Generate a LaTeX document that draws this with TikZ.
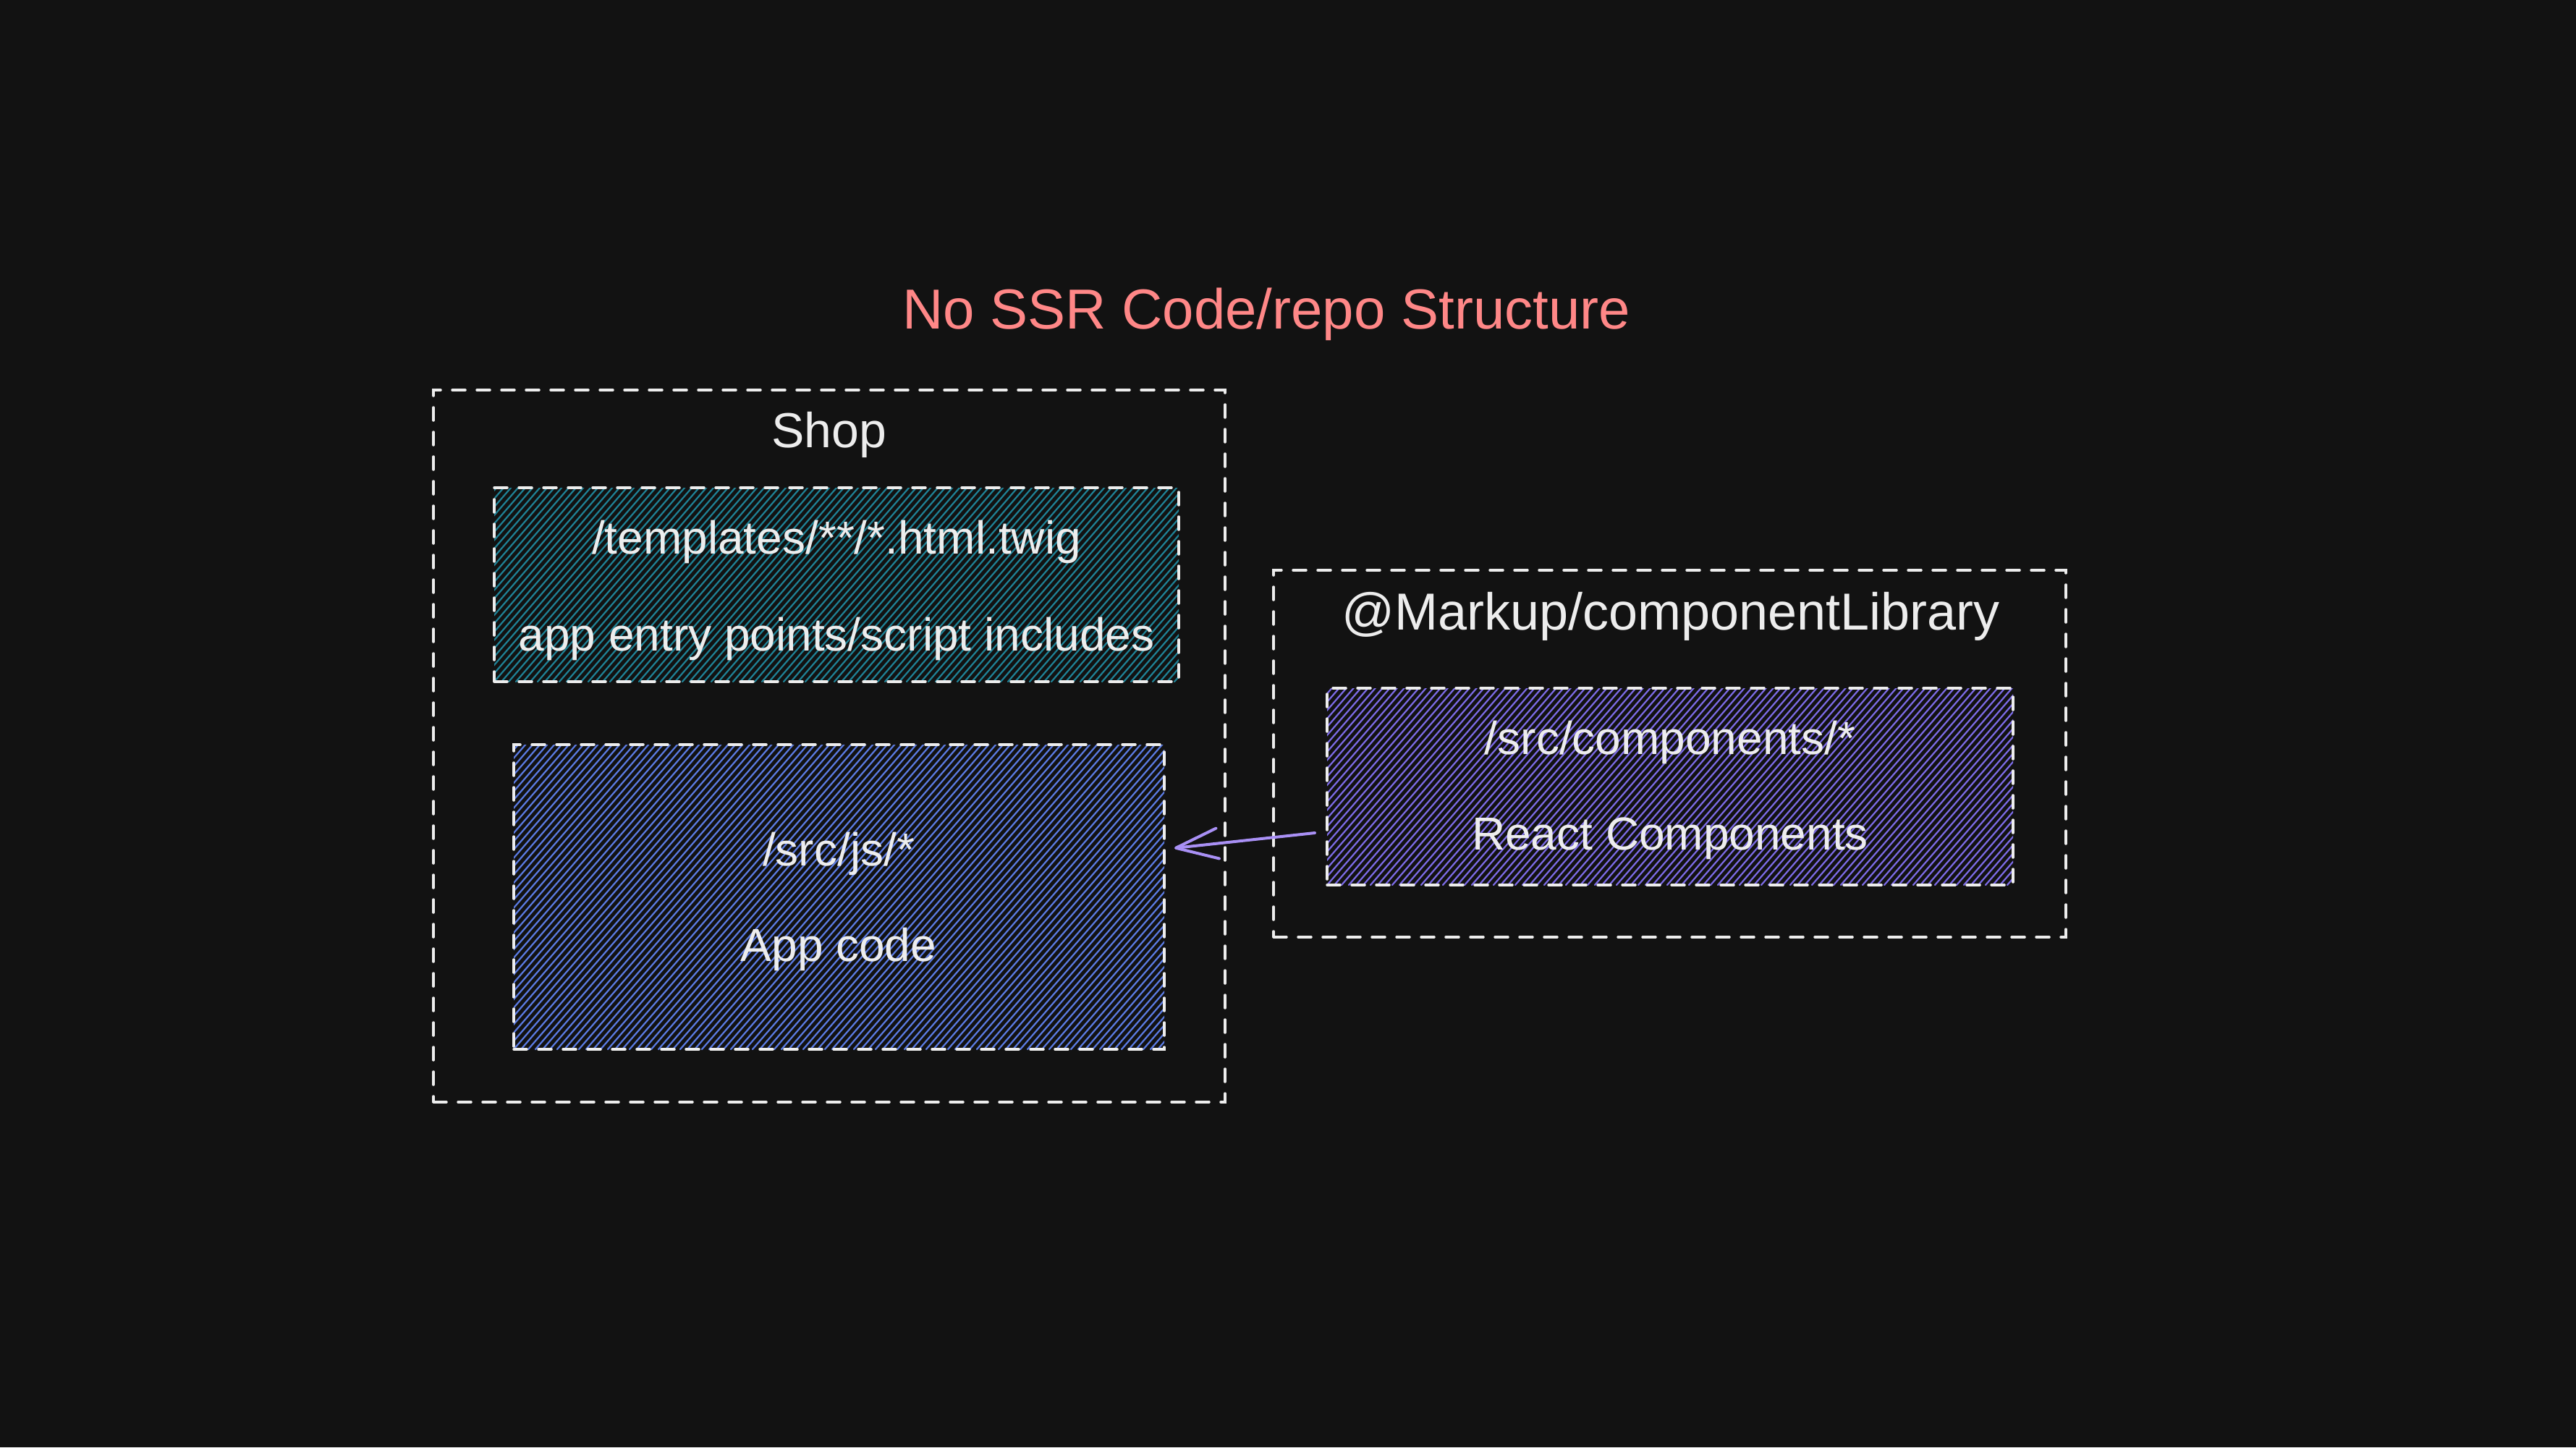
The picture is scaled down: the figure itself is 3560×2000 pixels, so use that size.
\documentclass[tikz,border=0pt]{standalone}
\usepackage{fontspec}
\setmainfont{Liberation Sans}
\usetikzlibrary{arrows.meta,calc}
\definecolor{bg}{HTML}{121212}
\definecolor{fg}{HTML}{EDEDED}
\definecolor{titlecol}{HTML}{FF8787}
\definecolor{tealh}{HTML}{1F8296}
\definecolor{blueh}{HTML}{5B7BE3}
\definecolor{purpleh}{HTML}{7C6BE6}
\definecolor{arrowcol}{HTML}{A990F5}
\tikzset{
  dbox/.style={rectangle, draw=fg, line width=3.5pt, dash pattern=on 18pt off 16pt, line cap=round, inner sep=0pt},
  hatch/.style={path picture={
    \foreach \s in {-420,-410,...,960}{
      \draw[#1, solid, line width=2.2pt, line cap=round]
        ($(path picture bounding box.south west)+(\s,0)$) -- ++(394,-453);
    }}},
  lbl/.style={text=fg, inner sep=0pt, anchor=base},
  small/.style={font=\fontsize{64pt}{76pt}\selectfont},
  mid/.style={font=\fontsize{68pt}{80pt}\selectfont},
  big/.style={font=\fontsize{72pt}{86pt}\selectfont},
  arrowline/.style={draw=arrowcol, line width=4pt, line cap=round,
    -{Straight Barb[length=58pt,width=42pt,round]}}
}
\begin{document}
\begin{tikzpicture}[x=1pt,y=-1pt]
\useasboundingbox (0,0) rectangle (3560,2000);
\fill[bg] (0,0) rectangle (3560,2000);

% title
\node[lbl, text=titlecol, font=\fontsize{78pt}{92pt}\selectfont] (title) at (1750,454) {No SSR Code/repo Structure};

% Shop group
\node[dbox, minimum width=1094pt, minimum height=984pt] (shop) at (1146,1031) {};
\node[lbl, mid] (shoplbl) at (1146,618) {Shop};

\node[dbox, hatch=tealh, minimum width=946pt, minimum height=268pt] (tmpl) at (1156,808) {};
\node[lbl, small] (tmpl1) at (1156,765) {/templates/**/*.html.twig};
\node[lbl, small] (tmpl2) at (1156,899) {app entry points/script includes};

\node[dbox, hatch=blueh, minimum width=899pt, minimum height=421pt] (app) at (1159.5,1239.5) {};
\node[lbl, small] (app1) at (1159,1196) {/src/js/*};
\node[lbl, small] (app2) at (1159,1328) {App code};

% component library group
\node[dbox, minimum width=1095pt, minimum height=507pt] (lib) at (2307.5,1041.5) {};
\node[lbl, big] (liblbl) at (2309,870) {@Markup/componentLibrary};

\node[dbox, hatch=purpleh, minimum width=948pt, minimum height=272pt] (comp) at (2308,1087) {};
\node[lbl, small] (comp1) at (2308,1042) {/src/components/*};
\node[lbl, small] (comp2) at (2308,1174) {React Components};

% arrow
\coordinate (arrS) at (1817,1151);
\coordinate (arrE) at (1623,1172);
\draw[arrowline] (arrS) -- (arrE);
\end{tikzpicture}
\end{document}
